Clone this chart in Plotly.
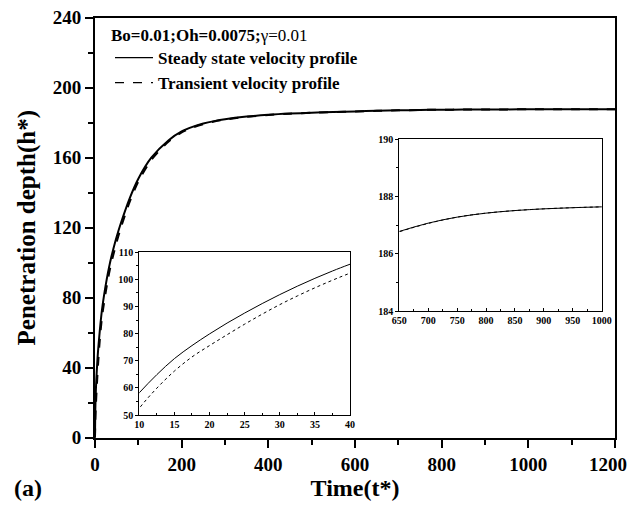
import plotly.graph_objects as go

# ---------------- data ----------------
time = [0, 0.5, 1, 2, 3, 5, 7, 10, 12.5, 15, 17.5, 20, 22.5, 25, 27.5, 30, 32.5, 35,
        37.5, 40, 50, 60, 80, 100, 130, 170, 200, 225, 250, 275, 300, 350, 400, 450,
        500, 550, 600, 650, 700, 750, 800, 850, 900, 950, 1000, 1100, 1200]

steady = [0, 13, 19, 27, 33, 42, 49.5, 58.2, 64.9, 70.8, 75.6, 79.9, 83.9, 87.6, 91.1,
          94.4, 97.5, 100.4, 103.1, 105.6, 114.8, 122.8, 136.8, 148.0, 160.0, 170.0,
          175.0, 177.6, 179.5, 180.9, 182.0, 183.5, 184.5, 185.2, 185.7, 186.1, 186.45,
          186.78, 187.07, 187.28, 187.42, 187.51, 187.57, 187.61, 187.64, 187.7, 187.73]

transient = [0, 7, 11.5, 18, 23.5, 33, 41.5, 52.5, 59.9, 66.2, 71.4, 75.6, 79.6, 83.5,
             87.2, 90.7, 93.9, 96.9, 99.7, 102.3, 111.8, 120.2, 134.8, 146.3, 158.7,
             169.3, 174.5, 177.2, 179.2, 180.7, 181.8, 183.35, 184.4, 185.15, 185.67,
             186.08, 186.44, 186.77, 187.06, 187.28, 187.42, 187.51, 187.57, 187.61,
             187.64, 187.7, 187.73]

main_xticks = [0, 200, 400, 600, 800, 1000, 1200]
main_xticklabels = ["0", "200", "400", "600", "800", "1000", "1200"]
main_yticks = [0, 40, 80, 120, 160, 200, 240]
inset1_xticks = [10, 15, 20, 25, 30, 35, 40]
inset1_yticks = [50, 60, 70, 80, 90, 100, 110]
inset2_xticks = [650, 700, 750, 800, 850, 900, 950, 1000]
inset2_yticks = [184, 186, 188, 190]

name_steady = "Steady state velocity profile"
name_trans = "Transient velocity profile"
legend_title = "<b>Bo=0.01;Oh=0.0075;</b>γ=0.01"

SERIF = "Liberation Serif"
W, H = 629, 507


def px_x(p):
    return p / W


def px_y(p):
    return 1 - p / H


# the last label sits at the right page edge: pad it so it stays inside the page
xtick_text = main_xticklabels[:-1] + [main_xticklabels[-1] + "\u00a0\u00a0\u00a0"]

fig = go.Figure()

# main curves
fig.add_trace(go.Scatter(x=time, y=steady, mode="lines",
                         line=dict(color="black", width=2, shape="spline", smoothing=0.8),
                         showlegend=False, xaxis="x", yaxis="y"))
fig.add_trace(go.Scatter(x=time, y=transient, mode="lines",
                         line=dict(color="black", width=2, dash="dash", shape="spline", smoothing=0.8),
                         showlegend=False, xaxis="x", yaxis="y"))
# legend entries
fig.add_trace(go.Scatter(x=[None], y=[None], mode="lines", name=name_steady,
                         line=dict(color="black", width=1.2)))
fig.add_trace(go.Scatter(x=[None], y=[None], mode="lines", name=name_trans,
                         line=dict(color="black", width=1.2, dash="dash")))

# inset 1
fig.add_trace(go.Scatter(x=time, y=steady, mode="lines", line=dict(color="black", width=1, shape="spline"),
                         showlegend=False, xaxis="x2", yaxis="y2"))
fig.add_trace(go.Scatter(x=time, y=transient, mode="lines",
                         line=dict(color="black", width=1, dash="3px,3px", shape="spline"),
                         showlegend=False, xaxis="x2", yaxis="y2"))
# inset 2
fig.add_trace(go.Scatter(x=time, y=steady, mode="lines", line=dict(color="black", width=1, shape="spline"),
                         showlegend=False, xaxis="x3", yaxis="y3"))
fig.add_trace(go.Scatter(x=time, y=transient, mode="lines",
                         line=dict(color="black", width=1, dash="3px,3px", shape="spline"),
                         showlegend=False, xaxis="x3", yaxis="y3"))

main_tick_font = dict(family=SERIF, size=19, color="black", weight="bold")
inset_tick_font = dict(family=SERIF, size=10, color="black", weight="bold")

common_main = dict(showgrid=False, zeroline=False, showline=True, linecolor="black",
                   linewidth=2, mirror=True, ticks="outside", ticklen=8, tickwidth=2,
                   tickcolor="black", tickfont=main_tick_font, automargin=False,
                   ticklabeloverflow="allow")
common_inset = dict(showgrid=False, zeroline=False, showline=True, linecolor="black",
                    linewidth=1, mirror=True, tickcolor="black", tickwidth=1,
                    tickfont=inset_tick_font, automargin=False)

fig.update_layout(
    width=W, height=H,
    margin=dict(l=0, r=0, t=0, b=0, autoexpand=False),
    paper_bgcolor="white", plot_bgcolor="white",
    xaxis=dict(common_main, domain=[px_x(95), px_x(615)], range=[0, 1200],
               tickvals=main_xticks, ticktext=xtick_text, anchor="y",
               minor=dict(dtick=100, tick0=0, ticks="outside", ticklen=5, tickwidth=2, tickcolor="black"),
               title=dict(text="Time(t*)", font=dict(family=SERIF, size=24, color="black", weight="bold"),
                          standoff=6)),
    yaxis=dict(common_main, domain=[px_y(437.7), px_y(17.7)], range=[0, 240],
               tickvals=main_yticks, anchor="x", ticklabelstandoff=0,
               minor=dict(dtick=20, tick0=0, ticks="outside", ticklen=5, tickwidth=2, tickcolor="black"),
               title=dict(text="Penetration depth(h*)",
                          font=dict(family=SERIF, size=25, color="black", weight="bold"),
                          standoff=10)),
    xaxis2=dict(common_inset, domain=[px_x(139.3), px_x(350)], range=[10, 40],
                tickvals=inset1_xticks, anchor="y2", ticks="inside", ticklen=3,
                minor=dict(dtick=2.5, tick0=10, ticks="inside", ticklen=2, tickwidth=1, tickcolor="black")),
    yaxis2=dict(common_inset, domain=[px_y(415), px_y(252.3)], range=[50, 110],
                tickvals=inset1_yticks, anchor="x2", ticks="outside", ticklen=3,
                minor=dict(dtick=5, tick0=50, ticks="outside", ticklen=2, tickwidth=1, tickcolor="black")),
    xaxis3=dict(common_inset, domain=[px_x(399.3), px_x(601.7)], range=[650, 1000],
                tickvals=inset2_xticks, anchor="y3", ticks="inside", ticklen=3,
                minor=dict(dtick=25, tick0=650, ticks="inside", ticklen=2, tickwidth=1, tickcolor="black")),
    yaxis3=dict(common_inset, domain=[px_y(311), px_y(139.3)], range=[184, 190],
                tickvals=inset2_yticks, anchor="x3", ticks="outside", ticklen=3,
                minor=dict(dtick=1, tick0=184, ticks="outside", ticklen=2, tickwidth=1, tickcolor="black")),
    legend=dict(x=px_x(110), y=px_y(40), xanchor="left", yanchor="top",
                bgcolor="rgba(0,0,0,0)", borderwidth=0,
                font=dict(family=SERIF, size=17, color="black", weight="bold"),
                itemwidth=38, tracegroupgap=0),
    annotations=[
        dict(text=legend_title, x=px_x(109), y=px_y(35), xref="paper", yref="paper",
             xanchor="left", yanchor="middle", showarrow=False,
             font=dict(family=SERIF, size=17, color="black")),
        dict(text="<b>(a)</b>", x=px_x(12), y=px_y(488), xref="paper", yref="paper",
             xanchor="left", yanchor="middle", showarrow=False,
             font=dict(family=SERIF, size=24, color="black")),
    ],
)

fig.write_html("out.html", config={"displayModeBar": False},
               post_script="document.body.style.margin='0';")
